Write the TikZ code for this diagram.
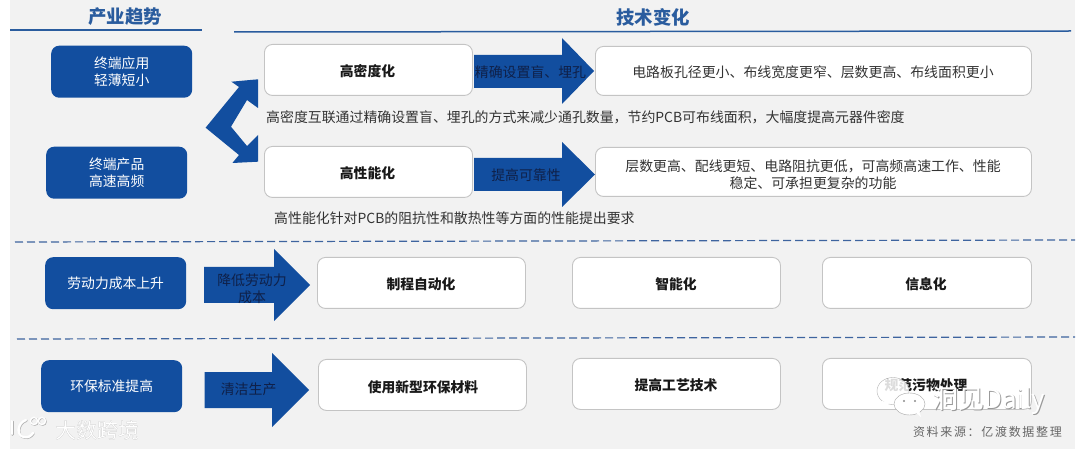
\documentclass[tikz,border=0pt]{standalone}
\usepackage{fontspec}
\setmainfont{Noto Sans CJK SC}
\newfontfamily\srcfont[LetterSpace=14]{Noto Sans CJK SC}
\definecolor{bluefill}{HTML}{124E9F}
\definecolor{headblue}{HTML}{2A5C9E}
\definecolor{bggrey}{HTML}{F2F2F2}
\definecolor{dashblue}{HTML}{3E649F}
\definecolor{boxline}{HTML}{C4C4C4}
\definecolor{bodytext}{HTML}{333333}
\definecolor{arrowtext}{HTML}{0F2048}
\tikzset{
  trendbox/.style={fill=bluefill,draw=none,rounded corners=8pt,text=white,font=\fontsize{13.8}{17}\selectfont,align=center,anchor=north west,inner sep=0pt},
  whitebox/.style={fill=white,draw=boxline,line width=0.9pt,rounded corners=8pt,anchor=north west,inner sep=0pt},
  boldlabel/.style={font=\fontsize{13.8}{17}\selectfont\bfseries,text=black!90,inner sep=0pt},
  bodylabel/.style={font=\fontsize{13.9}{17}\selectfont,text=bodytext,align=center,inner sep=0pt},
  arrowlabel/.style={font=\fontsize{13.9}{17}\selectfont,text=arrowtext,align=center,inner sep=0pt},
  header/.style={font=\fontsize{18.4}{20}\selectfont\bfseries,text=headblue,inner sep=0pt},
  rulehead/.style={draw=headblue,line width=1.5pt},
  dashrule/.style={draw=dashblue,line width=1.2pt,dash pattern=on 8pt off 4pt},
  bluearrow/.style={fill=bluefill,draw=none},
  wmtext/.style={text=white,inner sep=0pt},
  wmshadow/.style={text=black!40,inner sep=0pt},
  logostroke/.style={line width=2.4pt,line cap=round}
}
\begin{document}
\begin{tikzpicture}[x=1pt,y=-1pt]
\useasboundingbox (0,0) rectangle (1080,449);
\fill[white] (0,0) rectangle (1080,449);
\fill[bggrey] (10,0) rectangle (1075,449);
% headers
\node[header] (h1) at (125,17) {产业趋势};
\node[header] (h2) at (653,17) {技术变化};
\draw[rulehead] (10,30) -- (202,30);
\draw[rulehead] (234,32) -- (1071,31);
% dashes
\draw[dashrule] (15,242) -- (1075,240);
\draw[dashrule] (17,339) -- (1075,337);
% trend boxes
\node[trendbox,minimum width=141pt,minimum height=52pt] (t1) at (51,45.5) {终端应用\\轻薄短小};
\node[trendbox,minimum width=141pt,minimum height=52pt] (t2) at (46,146.5) {终端产品\\高速高频};
\node[trendbox,minimum width=141pt,minimum height=52pt] (t3) at (45,257) {劳动力成本上升};
\node[trendbox,minimum width=141pt,minimum height=52pt] (t4) at (41,360) {环保标准提高};
% double bent arrow
\fill[bluearrow] (205.6,127.7) -- (239,87) -- (231.4,81.7) -- (258,79.3) -- (258,108) -- (247,100) -- (231,126.7) -- (247,146) -- (258,135) -- (258,161.7) -- (232.4,163) -- (239,155) -- cycle;
% white boxes
\node[whitebox,minimum width=208pt,minimum height=51pt] (b1) at (264,44) {};
\node[whitebox,minimum width=208pt,minimum height=51pt] (b2) at (264,146) {};
\node[whitebox,minimum width=436pt,minimum height=49pt] (r1) at (595,46) {};
\node[whitebox,minimum width=436pt,minimum height=49pt] (r2) at (595,147) {};
\node[whitebox,minimum width=208pt,minimum height=51pt] (c1) at (317,257) {};
\node[whitebox,minimum width=208pt,minimum height=51pt] (c2) at (572,257) {};
\node[whitebox,minimum width=209pt,minimum height=51pt] (c3) at (822,257) {};
\node[whitebox,minimum width=208pt,minimum height=51pt] (d1) at (318,359) {};
\node[whitebox,minimum width=208pt,minimum height=51pt] (d2) at (572,358) {};
\node[whitebox,minimum width=209pt,minimum height=51pt] (d3) at (822,358) {};
% block arrows
\fill[bluearrow] (474,55) -- (562,55) -- (562,38) -- (594,71) -- (562,104) -- (562,88) -- (474,88) -- cycle;
\fill[bluearrow] (474,158) -- (562,158) -- (562,142) -- (595,174.5) -- (562,207) -- (562,191) -- (474,191) -- cycle;
\fill[bluearrow] (204,267) -- (274,267) -- (274,249) -- (310,285) -- (274,321) -- (274,303) -- (204,303) -- cycle;
\fill[bluearrow] (204.5,372) -- (272,372) -- (272,353) -- (309,390) -- (272,427) -- (272,408) -- (204.5,408) -- cycle;
% labels
\node[boldlabel] (l1) at (367.5,71) {高密度化};
\node[boldlabel] (l2) at (367.5,173) {高性能化};
\node[boldlabel] (l3) at (421,284) {制程自动化};
\node[boldlabel] (l4) at (676,284) {智能化};
\node[boldlabel] (l5) at (926,284) {信息化};
\node[boldlabel] (l6) at (423,387) {使用新型环保材料};
\node[boldlabel] (l7) at (676,385) {提高工艺技术};
\node[boldlabel] (l8) at (926,385) {规范污物处理};
\node[arrowlabel] (a1) at (530.5,72) {精确设置盲、埋孔};
\node[arrowlabel] (a2) at (526,175) {提高可靠性};
\node[arrowlabel] (a3) at (252,288.5) {降低劳动力\\成本};
\node[arrowlabel] (a4) at (248.6,389) {清洁生产};
\node[bodylabel] (p1) at (813,72) {电路板孔径更小、布线宽度更窄、层数更高、布线面积更小};
\node[bodylabel] (p2) at (813,174.5) {层数更高、配线更短、电路阻抗更低，可高频高速工作、性能\\稳定、可承担更复杂的功能};
\node[bodylabel,anchor=west] (p3) at (266,117) {高密度互联通过精确设置盲、埋孔的方式来减少通孔数量，节约PCB可布线面积，大幅度提高元器件密度};
\node[bodylabel,anchor=west] (p4) at (274,218) {高性能化针对PCB的阻抗性和散热性等方面的性能提出要求};
\node[inner sep=0pt,anchor=east,text=black!60,font=\fontsize{12}{14}\selectfont\srcfont] (src) at (1062,432) {资料来源：亿渡数据整理};
% watermark: lower left
\node[wmshadow,anchor=west,font=\fontsize{21}{24}\selectfont] (w1s) at (55.8,430.6) {大数跨境};
\node[wmtext,anchor=west,font=\fontsize{21}{24}\selectfont] (w1) at (55,430) {大数跨境};
\begin{scope}[shift={(0.6,0.6)},draw=black!30]
\draw[logostroke] (12,421) -- (12,434);
\draw[logostroke] (26,420) .. controls (17,423) and (16,436) .. (24,437) .. controls (28,438) and (31,436) .. (33,433);
\draw[line width=1.4pt] (34,421) circle (3.6pt) (42,421) circle (3.6pt);
\end{scope}
\begin{scope}[draw=white]
\draw[logostroke] (12,421) -- (12,434);
\draw[logostroke] (26,420) .. controls (17,423) and (16,436) .. (24,437) .. controls (28,438) and (31,436) .. (33,433);
\draw[line width=1.4pt] (34,421) circle (3.6pt) (42,421) circle (3.6pt);
\end{scope}
% watermark: lower right
\fill[white,opacity=0.85,draw=black!35,line width=0.4pt] (893,391) ellipse (16pt and 13.5pt);
\fill[white] (882,401) -- (881,408) -- (890,403) -- cycle;
\fill[white,draw=black!35,line width=0.4pt] (909.5,404) ellipse (15.5pt and 11pt);
\fill[white] (915,412) -- (921,417) -- (919,410) -- cycle;
\fill[black!45] (904,401) circle (1.2pt) (915,401) circle (1.2pt);
\node[wmshadow,anchor=west,font=\fontsize{26}{28}\selectfont] (w2s) at (933.2,401.6) {洞见Daily};
\node[wmtext,anchor=west,font=\fontsize{26}{28}\selectfont] (w2) at (932.5,401) {洞见Daily};
\end{tikzpicture}
\end{document}
